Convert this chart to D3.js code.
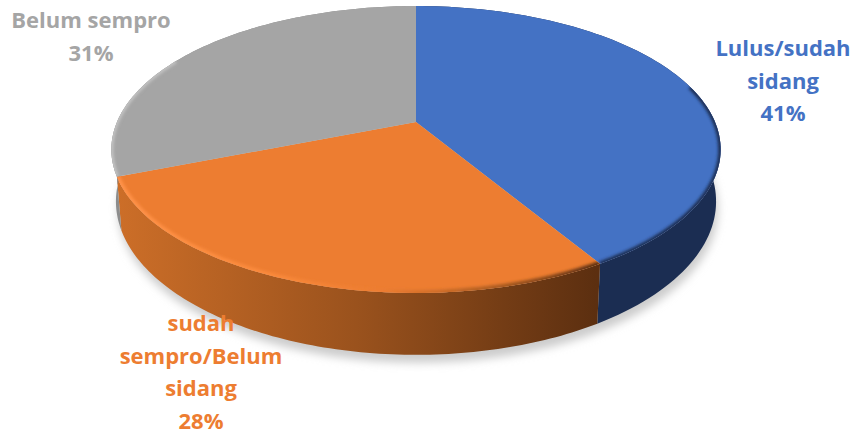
<!DOCTYPE html>
<html>
<head>
<meta charset="utf-8">
<script src="https://cdn.jsdelivr.net/npm/d3@7"></script>
<style>
  html, body { margin: 0; padding: 0; background: #fff; overflow: hidden; }
  text { font-family: "Open Sans", sans-serif; font-weight: 700; font-size: 22px; }
</style>
</head>
<body>
<div id="chart"></div>
<script>
// values, the slice edges say blue is a bit over 41
var categories = ["Lulus/sudah sidang", "sudah sempro/Belum sidang", "Belum sempro"];
var percents = [41.4, 27.6, 31];
var colors = ["#4472C4", "#ED7D31", "#A5A5A5"];
var labelLines = [
    ["Lulus/sudah", "sidang"],
    ["sudah", "sempro/Belum", "sidang"],
    ["Belum sempro"]
];

var svgWidth = 855;
var svgHeight = 436;

// centre of the pie and the perspective of the tilted disc
var apex = { x: 416, y: 122 };
var radiusX = 299;
var radiusY = 138.2;
var persp = 0.1916;
var depth = 50;
var bottomScale = 0.985;

// where the label blocks sit: centre x and first baseline
var labelPos = [
    { x: 783, y: 56, step: 32.5 },
    { x: 201, y: 331, step: 32.5 },
    { x: 91, y: 28, step: 33 }
];

var svg = d3.select("#chart")
    .append("svg")
    .attr("width", svgWidth)
    .attr("height", svgHeight);

var defs = svg.append("defs");

function addBlur(id, dev) {
    defs.append("filter")
        .attr("id", id)
        .attr("filterUnits", "userSpaceOnUse")
        .attr("x", 0).attr("y", 0)
        .attr("width", svgWidth).attr("height", svgHeight)
        .append("feGaussianBlur")
        .attr("stdDeviation", dev);
}
addBlur("shadowBlur", 4.5);
addBlur("rimBlur", 1.8);

function addGradient(id, stops, x1, x2) {
    var g = defs.append("linearGradient")
        .attr("id", id)
        .attr("gradientUnits", "userSpaceOnUse")
        .attr("x1", x1).attr("x2", x2)
        .attr("y1", 0).attr("y2", 0);
    stops.forEach(function(s) {
        g.append("stop").attr("offset", s[0]).attr("stop-color", s[1]);
    });
}
addGradient("sideOrange", [[0, "#cc6e28"], [0.5, "#9a521d"], [1, "#5c2f10"]], 118, 596);
addGradient("rimOrange", [[0, "#ff9248"], [0.3, "#fb8a3c"], [0.55, "#ed7d31"], [0.8, "#a85a20"], [1, "#5c2f10"]], 118, 596);

var sideFill = ["#1b2d52", "url(#sideOrange)", "#8c8c8c"];
var rimStroke = ["#1b2d52", "url(#rimOrange)", "#c4c4c4"];
var rimWidth = [5, 6, 4];
// share of each slice that gets the bevel, the back of the disc has none
var rimFrom = [0.5, 0, 0];
var rimTo = [1, 1, 0.45];

var color = d3.scaleOrdinal().domain(categories).range(colors);

var pie = d3.pie().sort(null).value(function(d) { return d.value; });
var slices = pie(categories.map(function(c, i) { return { name: c, value: percents[i] }; }));

// angle on the disc to a point on the picture, 0 is straight up, clockwise
function project(angle, isBottom) {
    var X = Math.sin(angle);
    var Y = Math.cos(angle);
    var w = 1 + persp * Y;
    var s = isBottom ? bottomScale : 1;
    return [
        apex.x + s * radiusX * X / w,
        apex.y - radiusY * Y / w + (isBottom ? depth / w : 0)
    ];
}

function ring(a0, a1, isBottom) {
    return d3.range(0, 101).map(function(i) {
        return project(a0 + (a1 - a0) * i / 100, isBottom);
    });
}

var line = d3.line();

// soft shadow on the floor
svg.append("path")
    .attr("d", line(ring(0, 2 * Math.PI, true)) + "Z")
    .attr("transform", "translate(2,8)")
    .attr("fill", "#cccccc")
    .attr("filter", "url(#shadowBlur)");

// side walls
svg.selectAll(".side")
    .data(slices)
    .enter()
    .append("path")
    .attr("class", "side")
    .attr("d", function(d) {
        return line(ring(d.startAngle, d.endAngle, false)
            .concat(ring(d.startAngle, d.endAngle, true).reverse())) + "Z";
    })
    .attr("fill", function(d, i) { return sideFill[i]; });

// top face
function topPath(d) {
    return line([[apex.x, apex.y]].concat(ring(d.startAngle, d.endAngle, false))) + "Z";
}

slices.forEach(function(d, i) {
    defs.append("clipPath")
        .attr("id", "clip" + i)
        .append("path")
        .attr("d", topPath(d));
});

svg.selectAll(".top")
    .data(slices)
    .enter()
    .append("path")
    .attr("class", "top")
    .attr("d", topPath)
    .attr("fill", function(d) { return color(d.data.name); });

// bevel along the rim of the top face
svg.selectAll(".rim")
    .data(slices)
    .enter()
    .append("g")
    .attr("clip-path", function(d, i) { return "url(#clip" + i + ")"; })
    .append("path")
    .attr("d", function(d, i) {
        var span = d.endAngle - d.startAngle;
        return line(ring(d.startAngle + span * rimFrom[i], d.startAngle + span * rimTo[i], false));
    })
    .attr("fill", "none")
    .attr("stroke", function(d, i) { return rimStroke[i]; })
    .attr("stroke-width", function(d, i) { return rimWidth[i]; })
    .attr("filter", "url(#rimBlur)");

// labels, name lines then the rounded percent
labelLines.forEach(function(lines, i) {
    var t = svg.append("text")
        .attr("text-anchor", "middle")
        .attr("fill", colors[i]);
    lines.concat([Math.round(percents[i]) + "%"]).forEach(function(txt, j) {
        t.append("tspan")
            .attr("x", labelPos[i].x)
            .attr("y", labelPos[i].y + j * labelPos[i].step)
            .text(txt);
    });
});
</script>
</body>
</html>
